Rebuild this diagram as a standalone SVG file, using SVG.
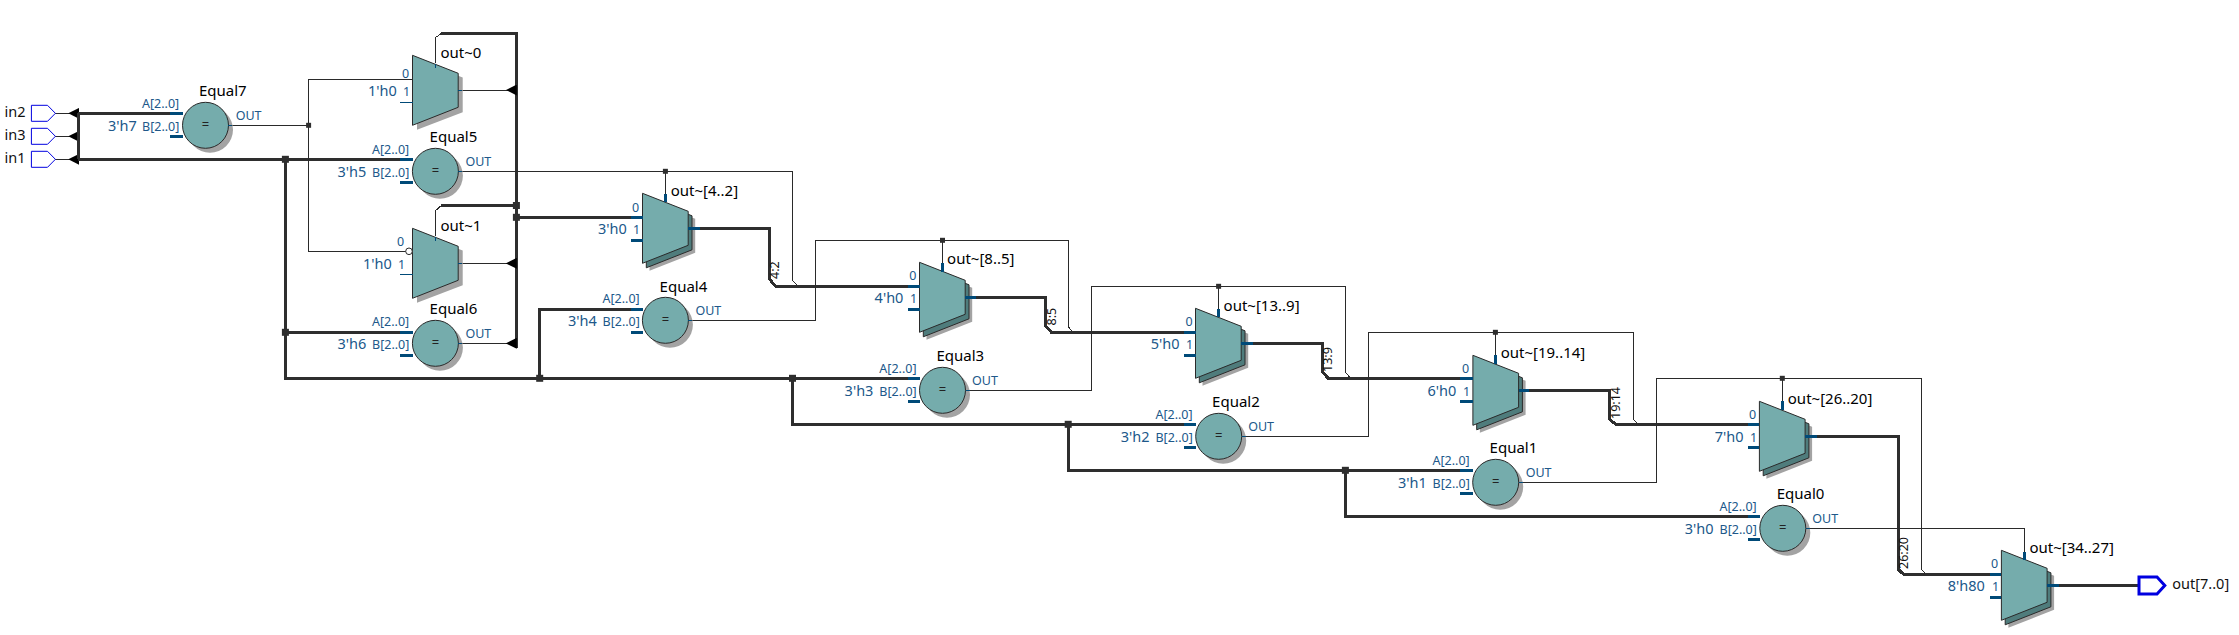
<svg xmlns="http://www.w3.org/2000/svg" width="2239" height="635" viewBox="0 0 2239 635">
<style>
text{font-family:"Noto Sans","Open Sans","Liberation Sans",sans-serif}
.n{font-size:15px;fill:#000}
.p{font-size:12.5px;fill:#20588a}
.c{font-size:14.5px;fill:#20588a}
.pin{font-size:14.5px;fill:#111}
.r{font-size:12.5px;fill:#111}
.eq{font-size:13px;fill:#222}
.th{fill:none;stroke:#2a2a2a;stroke-width:1;shape-rendering:crispEdges}
.tk{fill:none;stroke:#2e2e2e;stroke-width:3;shape-rendering:crispEdges}
.s{fill:none;stroke:#004a78;stroke-width:1;shape-rendering:crispEdges}
.b{fill:none;stroke:#004a78;stroke-width:3;shape-rendering:crispEdges}
.f{fill:#75acac;stroke:#2a2a2a;stroke-width:1}
.d{fill:#4f7c7c;stroke:#2a2a2a;stroke-width:1}
.sh{fill:#a3a3a3}
.ar{marker-end:url(#arr)}
</style>
<defs>
<marker id="arr" markerUnits="userSpaceOnUse" markerWidth="11" markerHeight="11" refX="11" refY="5.5" orient="auto" viewBox="0 0 11 11"><path d="M11 0L0 5.5L11 11z" fill="#000"/></marker>
<rect id="dt" x="-2.5" y="-2.5" width="5" height="5" fill="#2e2e2e"/>
<rect id="DT" x="-3.5" y="-3.5" width="7" height="7" fill="#2e2e2e"/>
<g id="eq"><circle cx="4.5" cy="4.5" r="23" class="sh"/><circle r="23" class="f"/><text y="4" text-anchor="middle" class="eq">=</text></g>
<g id="m1"><path d="M4.5 4.5L50.2 22.2V57L4.5 74.5z" class="sh"/><path d="M0 0L45.7 18V52L0 70z" class="f"/></g>
<g id="mn"><path d="M7 7.5L52.7 25.5V59.5L7 77.5z" class="sh"/><path d="M3.8 4.5L49.5 22.5V56.5L3.8 74.5z" class="d"/><path d="M0 0L45.7 18V52L0 70z" class="f"/></g>
</defs>
<g id="connectors">
<path class="th ar" d="M55.4 113.3H79.3"/>
<path class="th ar" d="M55.4 136.3H79.3"/>
<path class="th ar" d="M55.4 159.3H79.3"/>
<path class="tk" d="M78.2 113.3V159.3"/>
<path class="tk" d="M78.2 113.3H170"/>
<path class="tk" d="M78.2 159.3H400"/>
<path class="tk" d="M285.4 159.3V378.3H908"/>
<path class="tk" d="M285.4 332.3H400"/>
<path class="tk" d="M539.7 378.3V309.3H631"/>
<path class="tk" d="M792.5 378.3V424.3H1184.3"/>
<path class="tk" d="M1068.2 424.3V470.3H1460"/>
<path class="tk" d="M1345.4 470.3V516.3H1748.3"/>
<path class="th" d="M228.4 125.3H308.6V79.3H412.5"/>
<path class="th" d="M308.6 125.3V251.3H405.5"/>
<path class="th" d="M435.4 63V37.7L441.4 33.3"/>
<path class="th" d="M435.4 236V210.7L441.4 205.5"/>
<path class="tk" d="M441.4 33.3H516.4V347.7"/>
<path class="tk" d="M441.4 205.5H516.4"/>
<path class="th ar" d="M458.2 90H516.8"/>
<path class="th ar" d="M458.2 263.3H516.8"/>
<path class="th ar" d="M458.4 343.3H516.8"/>
<path class="tk" d="M516.4 217.3H631"/>
<path class="th" d="M458.4 171.3H792.5V280.7L798 286.3"/>
<path class="th" d="M665.4 194.3V171.3"/>
<path class="tk" d="M699 228.3H769.6V279.3L775.7 286.3H908"/>
<path class="th" d="M688.4 320.3H815.4V240.3H1068.2V326.7L1073 332"/>
<path class="th" d="M942.5 263.3V240.3"/>
<path class="tk" d="M976 297H1045.4V325.7L1051.4 332.3H1184.3"/>
<path class="th" d="M965.8 390.3H1091.6V286.3H1345.4V372.3L1350.5 378"/>
<path class="th" d="M1218.6 309.3V286.3"/>
<path class="tk" d="M1252.5 343.3H1322.9V372.3L1328.2 378.3H1460.4"/>
<path class="th" d="M1241.8 436.3H1368.2V332.3H1633V419.3L1638.2 424"/>
<path class="th" d="M1495.4 355.3V332.3"/>
<path class="tk" d="M1529 390.3H1609.6V419.3L1615.7 424.3H1748.3"/>
<path class="th" d="M1518.7 482.3H1656.7V378.3H1921.6V569.3L1926 574"/>
<path class="th" d="M1782.3 401.3V378.3"/>
<path class="tk" d="M1816.5 436.3H1898.3V569.3L1903.5 574.3H1990.3"/>
<path class="th" d="M1805.5 528.3H2024.3V552"/>
<path class="tk" d="M2059 585.3H2138.4"/>
<use href="#dt" x="308.6" y="125.3"/>
<use href="#DT" x="285.4" y="159.3"/>
<use href="#DT" x="285.4" y="332.3"/>
<use href="#DT" x="516.4" y="205.5"/>
<use href="#DT" x="516.4" y="217.3"/>
<use href="#DT" x="539.7" y="378.3"/>
<use href="#DT" x="792.5" y="378.3"/>
<use href="#DT" x="1068.2" y="424.3"/>
<use href="#DT" x="1345.4" y="470.3"/>
<use href="#dt" x="665.4" y="171.3"/>
<use href="#dt" x="942.5" y="240.3"/>
<use href="#dt" x="1218.6" y="286.3"/>
<use href="#dt" x="1495.4" y="332.3"/>
<use href="#dt" x="1782.3" y="378.3"/>
<text class="r" transform="translate(778.6 279) rotate(-90)">4:2</text>
<text class="r" transform="translate(1056 325.5) rotate(-90)">8:5</text>
<text class="r" transform="translate(1332 372) rotate(-90)">13:9</text>
<text class="r" transform="translate(1620 419) rotate(-90)">19:14</text>
<text class="r" transform="translate(1908.2 569) rotate(-90)">26:20</text>
</g>
<g id="in2"><path d="M31.4 105.3H47.5L55.4 113.3L47.5 121.3H31.4z" fill="#fff" stroke="#0000e0" stroke-width="1"/><text class="pin" x="4.6" y="117">in2</text></g>
<g id="in3"><path d="M31.4 128.3H47.5L55.4 136.3L47.5 144.3H31.4z" fill="#fff" stroke="#0000e0" stroke-width="1"/><text class="pin" x="4.6" y="140">in3</text></g>
<g id="in1"><path d="M31.4 151.3H47.5L55.4 159.3L47.5 167.3H31.4z" fill="#fff" stroke="#0000e0" stroke-width="1"/><text class="pin" x="4.6" y="163">in1</text></g>
<g id="out"><path d="M2139 577H2157L2164.8 585.5L2157 594H2139z" fill="#fff" stroke="#0000e0" stroke-width="3"/><text class="pin" x="2172.3" y="589">out[7..0]</text></g>

<g id="Equal7"><use href="#eq" x="205.5" y="125.3"/><path class="b" d="M170 113.3H182.5M170 136.3H182.5"/><path class="s" d="M228.4 125.3H232"/>
<text class="n" x="199" y="96">Equal7</text><text class="p" x="142" y="108.3">A[2..0]</text><text class="c" x="108" y="130.7">3'h7</text><text class="p" x="142" y="130.7">B[2..0]</text><text class="p" x="235.7" y="120">OUT</text></g>
<g id="Equal5"><use href="#eq" x="435.4" y="171.3"/><path class="b" d="M400 159.3H412.5M400 182.3H412.5"/><path class="s" d="M458.4 171.3H462"/>
<text class="n" x="429.6" y="141.7">Equal5</text><text class="p" x="372" y="154">A[2..0]</text><text class="c" x="337.5" y="176.7">3'h5</text><text class="p" x="372" y="176.7">B[2..0]</text><text class="p" x="465.4" y="166">OUT</text></g>
<g id="Equal6"><use href="#eq" x="435.4" y="343.3"/><path class="b" d="M400 332.3H412.5M400 355.3H412.5"/><path class="s" d="M458.4 343.3H462"/>
<text class="n" x="429.6" y="314">Equal6</text><text class="p" x="372" y="326.3">A[2..0]</text><text class="c" x="337.5" y="349">3'h6</text><text class="p" x="372" y="349">B[2..0]</text><text class="p" x="465.4" y="337.7">OUT</text></g>
<g id="Equal4"><use href="#eq" x="665.4" y="320.3"/><path class="b" d="M631 309.3H642.5M631 332.3H642.5"/><path class="s" d="M688.4 320.3H692"/>
<text class="n" x="659.6" y="291.7">Equal4</text><text class="p" x="602.5" y="303.3">A[2..0]</text><text class="c" x="567.9" y="325.7">3'h4</text><text class="p" x="602.5" y="325.7">B[2..0]</text><text class="p" x="695.4" y="315">OUT</text></g>
<g id="Equal3"><use href="#eq" x="942.5" y="390.3"/><path class="b" d="M908 378.3H919.5M908 401.3H919.5"/><path class="s" d="M965.8 390.3H969.5"/>
<text class="n" x="936.4" y="360.7">Equal3</text><text class="p" x="879.3" y="373.3">A[2..0]</text><text class="c" x="844.6" y="395.7">3'h3</text><text class="p" x="879.3" y="395.7">B[2..0]</text><text class="p" x="972.1" y="385">OUT</text></g>
<g id="Equal2"><use href="#eq" x="1218.7" y="436.3"/><path class="b" d="M1184.3 424.3H1195.7M1184.3 447.3H1195.7"/><path class="s" d="M1241.8 436.3H1245.5"/>
<text class="n" x="1212.1" y="406.7">Equal2</text><text class="p" x="1155.4" y="419.3">A[2..0]</text><text class="c" x="1120.7" y="441.7">3'h2</text><text class="p" x="1155.4" y="441.7">B[2..0]</text><text class="p" x="1248.2" y="430.7">OUT</text></g>
<g id="Equal1"><use href="#eq" x="1495.7" y="482.3"/><path class="b" d="M1460 470.3H1472.7M1460 493.3H1472.7"/><path class="s" d="M1518.7 482.3H1522.5"/>
<text class="n" x="1489.6" y="452.7">Equal1</text><text class="p" x="1432.5" y="465.3">A[2..0]</text><text class="c" x="1397.9" y="487.7">3'h1</text><text class="p" x="1432.5" y="487.7">B[2..0]</text><text class="p" x="1525.7" y="476.7">OUT</text></g>
<g id="Equal0"><use href="#eq" x="1782.8" y="528.3"/><path class="b" d="M1748.3 516.3H1760M1748.3 539.3H1760"/><path class="s" d="M1805.5 528.3H1809.5"/>
<text class="n" x="1776.7" y="499">Equal0</text><text class="p" x="1719.5" y="510.7">A[2..0]</text><text class="c" x="1684.7" y="534">3'h0</text><text class="p" x="1719.5" y="534">B[2..0]</text><text class="p" x="1812.3" y="523.3">OUT</text></g>

<g id="out_0"><use href="#m1" x="412.5" y="55.3"/><path class="s" d="M400 102H412.5M458.2 90H462M435.4 63.5V68"/>
<text class="n" x="440.4" y="57.7">out~0</text><text class="p" x="402" y="78">0</text><text class="c" x="368" y="96">1'h0</text><text class="p" x="403" y="96">1</text></g>
<g id="out_1"><use href="#m1" x="412.5" y="228.3"/><path class="s" d="M400 274.3H412.5M458.2 263.3H462M435.4 236.5V240.5"/><circle cx="409" cy="251.3" r="3.3" fill="#fff" stroke="#2a2a2a" stroke-width="1"/>
<text class="n" x="440.4" y="230.7">out~1</text><text class="p" x="397" y="245.7">0</text><text class="c" x="363" y="269">1'h0</text><text class="p" x="398" y="269">1</text></g>
<g id="out_4_2"><use href="#mn" x="642.5" y="193.3"/><path class="b" d="M631 217.3H642.5M631 240.3H642.5M688.2 228.3H699.6M665.4 194.3V202"/>
<text class="n" x="670.7" y="195.7">out~[4..2]</text><text class="p" x="632" y="211.7">0</text><text class="c" x="597.9" y="234">3'h0</text><text class="p" x="633" y="234">1</text></g>
<g id="out_8_5"><use href="#mn" x="919.5" y="262.3"/><path class="b" d="M908 286.3H919.5M908 309.3H919.5M965.2 297H976.4M942.5 263.3V271.7"/>
<text class="n" x="947.1" y="264.3">out~[8..5]</text><text class="p" x="909.3" y="280">0</text><text class="c" x="874.6" y="302.7">4'h0</text><text class="p" x="910" y="302.7">1</text></g>
<g id="out_13_9"><use href="#mn" x="1195.5" y="308.3"/><path class="b" d="M1184.3 332.3H1195.5M1184.3 355.3H1195.5M1241.2 343.3H1252.9M1218.6 309.3V317.3"/>
<text class="n" x="1223.6" y="310.7">out~[13..9]</text><text class="p" x="1185.4" y="326">0</text><text class="c" x="1150.7" y="348.7">5'h0</text><text class="p" x="1186" y="348.7">1</text></g>
<g id="out_19_14"><use href="#mn" x="1472.9" y="355.3"/><path class="b" d="M1460.4 378.3H1472.9M1460.4 401.3H1472.9M1518.6 390.3H1529.3M1495.4 355.3V364"/>
<text class="n" x="1500.7" y="357.7">out~[19..14]</text><text class="p" x="1462" y="372.7">0</text><text class="c" x="1427.5" y="395.7">6'h0</text><text class="p" x="1463" y="395.7">1</text></g>
<g id="out_26_20"><use href="#mn" x="1759.4" y="401.3"/><path class="b" d="M1748.3 424.3H1759.4M1748.3 447.3H1759.4M1805 436.3H1816.6M1782.3 401.3V410"/>
<text class="n" x="1787.8" y="404">out~[26..20]</text><text class="p" x="1749" y="419.3">0</text><text class="c" x="1714.7" y="441.7">7'h0</text><text class="p" x="1750" y="441.7">1</text></g>
<g id="out_34_27"><use href="#mn" x="2001.4" y="550.3"/><path class="b" d="M1990.3 574.3H2001.4M1990.3 597.3H2001.4M2047 585.3H2059M2024.3 551.7V560"/>
<text class="n" x="2029.4" y="552.7">out~[34..27]</text><text class="p" x="1991" y="567.7">0</text><text class="c" x="1947.7" y="591">8'h80</text><text class="p" x="1992" y="591">1</text></g>
</svg>
